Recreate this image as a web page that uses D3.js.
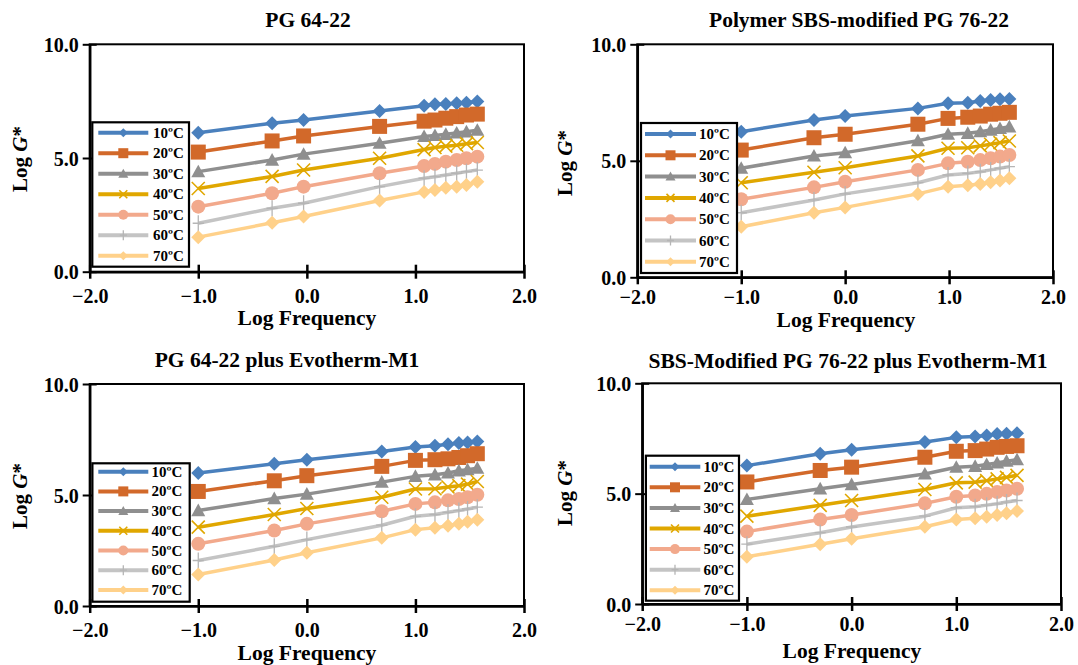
<!DOCTYPE html>
<html>
<head>
<meta charset="utf-8">
<script src="https://cdn.jsdelivr.net/npm/d3@7"></script>
<style>
  body { margin: 0; background: #fff; }
  text { font-family: "Liberation Serif", "Times New Roman", serif; font-weight: bold; fill: #000; }
</style>
</head>
<body>
<svg id="chart" width="1078" height="665"></svg>
<script>
// legend entries
var temps = ["10ºC", "20ºC", "30ºC", "40ºC", "50ºC", "60ºC", "70ºC"];
var xTicks = [-2, -1, 0, 1, 2];
var yTicks = [0, 5, 10];

// log frequency of each test point
var freqPG64 = [-1.0, -0.32, -0.03, 0.67, 1.08, 1.18, 1.28, 1.38, 1.47, 1.57];
var freqSBS76 = [-1.0, -0.30, 0.0, 0.70, 0.99, 1.18, 1.30, 1.40, 1.49, 1.58];
var freqPG64Evo = [-1.0, -0.30, 0.0, 0.69, 1.0, 1.18, 1.30, 1.40, 1.48, 1.57];
var freqSBS76Evo = [-1.0, -0.30, 0.0, 0.70, 1.0, 1.18, 1.29, 1.39, 1.48, 1.58];

// log G* per temperature (rows 10..70 ºC)
var gPG64 = [
  [6.11, 6.53, 6.67, 7.07, 7.30, 7.36, 7.37, 7.41, 7.43, 7.48],
  [5.26, 5.75, 5.97, 6.39, 6.62, 6.67, 6.75, 6.82, 6.89, 6.93],
  [4.40, 4.91, 5.17, 5.65, 5.95, 5.99, 6.04, 6.10, 6.15, 6.22],
  [3.66, 4.19, 4.47, 4.99, 5.37, 5.46, 5.52, 5.56, 5.63, 5.68],
  [2.86, 3.45, 3.74, 4.33, 4.65, 4.74, 4.84, 4.91, 4.99, 5.06],
  [2.13, 2.79, 3.01, 3.74, 4.11, 4.18, 4.25, 4.33, 4.40, 4.47],
  [1.52, 2.15, 2.43, 3.13, 3.51, 3.59, 3.69, 3.74, 3.81, 3.96]
];
var gSBS76 = [
  [6.25, 6.75, 6.92, 7.25, 7.47, 7.49, 7.57, 7.61, 7.64, 7.65],
  [5.46, 5.99, 6.14, 6.57, 6.82, 6.87, 6.92, 7.00, 7.04, 7.08],
  [4.68, 5.21, 5.35, 5.86, 6.14, 6.18, 6.25, 6.32, 6.39, 6.46],
  [4.06, 4.51, 4.70, 5.21, 5.54, 5.56, 5.64, 5.71, 5.78, 5.85],
  [3.35, 3.86, 4.10, 4.61, 4.89, 4.96, 5.03, 5.11, 5.18, 5.25],
  [2.77, 3.32, 3.58, 4.06, 4.39, 4.46, 4.53, 4.61, 4.68, 4.75],
  [2.17, 2.77, 3.00, 3.58, 3.89, 3.95, 4.00, 4.08, 4.15, 4.25]
];
var gPG64Evo = [
  [5.99, 6.41, 6.59, 6.96, 7.16, 7.22, 7.29, 7.34, 7.37, 7.41],
  [5.16, 5.64, 5.87, 6.29, 6.56, 6.59, 6.63, 6.69, 6.77, 6.86],
  [4.30, 4.84, 5.04, 5.58, 5.84, 5.91, 5.99, 6.09, 6.14, 6.21],
  [3.55, 4.12, 4.39, 4.90, 5.27, 5.28, 5.36, 5.42, 5.49, 5.61],
  [2.80, 3.40, 3.70, 4.27, 4.60, 4.67, 4.76, 4.82, 4.90, 5.01],
  [2.05, 2.69, 2.99, 3.64, 4.04, 4.12, 4.22, 4.30, 4.37, 4.45],
  [1.42, 2.07, 2.40, 3.07, 3.44, 3.52, 3.62, 3.70, 3.79, 3.89]
];
var gSBS76Evo = [
  [6.27, 6.81, 6.99, 7.34, 7.55, 7.59, 7.64, 7.70, 7.71, 7.74],
  [5.53, 6.05, 6.20, 6.65, 6.92, 6.95, 7.02, 7.10, 7.14, 7.17],
  [4.74, 5.22, 5.41, 5.89, 6.20, 6.24, 6.32, 6.39, 6.47, 6.54],
  [3.98, 4.47, 4.69, 5.19, 5.49, 5.52, 5.59, 5.67, 5.74, 5.83],
  [3.28, 3.83, 4.03, 4.56, 4.86, 4.92, 4.99, 5.07, 5.14, 5.22],
  [2.71, 3.23, 3.49, 3.98, 4.36, 4.41, 4.48, 4.54, 4.62, 4.69],
  [2.14, 2.71, 2.96, 3.50, 3.83, 3.88, 3.95, 4.03, 4.11, 4.21]
];

var titles = ["PG 64-22", "Polymer SBS-modified PG 76-22",
              "PG 64-22 plus Evotherm-M1", "SBS-Modified PG 76-22 plus Evotherm-M1"];

var colors = ["#4a80bd", "#d2692a", "#8f8f8f", "#e0a700", "#f2a98c", "#c4c4c4", "#ffd18a"];
var markers = ["diamond", "square", "triangle", "x", "circle", "plus", "diamond"];

// where each panel sits on the page
var panels = [
  { title: titles[0], freq: freqPG64, g: gPG64,
    x0: 89.7, x1: 524, top: 44.3, bot: 271.7, tickOff: 31,
    tt: [308, 27], xl: [307, 325], yl: [27, 159],
    leg: { x: 92.3, y: 122.3, w: 96.7, h: 144.4, r0: 132.7, step: 20.5, l0: 98.3, l1: 148.3, tx: 153 } },
  { title: titles[1], freq: freqSBS76, g: gSBS76,
    x0: 637.3, x1: 1053, top: 44.3, bot: 277.3, tickOff: 27,
    tt: [859, 26.7], xl: [846, 326.7], yl: [572, 163],
    leg: { x: 641, y: 123, w: 96, h: 150, r0: 134, step: 21.3, l0: 645, l1: 696, tx: 699 } },
  { title: titles[2], freq: freqPG64Evo, g: gPG64Evo,
    x0: 89.7, x1: 524, top: 384, bot: 606, tickOff: 31,
    tt: [287, 366.7], xl: [307, 660], yl: [27, 496],
    leg: { x: 92.4, y: 463.3, w: 97.3, h: 138.4, r0: 471.7, step: 19.7, l0: 98.3, l1: 148.3, tx: 151.5 } },
  { title: titles[3], freq: freqSBS76Evo, g: gSBS76Evo,
    x0: 642.2, x1: 1061, top: 383.3, bot: 604, tickOff: 27,
    tt: [848, 368.3], xl: [852, 658.3], yl: [572, 493],
    leg: { x: 645.9, y: 455.7, w: 93.1, h: 145, r0: 466.7, step: 20.6, l0: 649.7, l1: 700.3, tx: 703.5 } }
];

var svg = d3.select("#chart");
var fmt = d3.format(".1f");

// draw a marker of given kind and size at (0,0) inside group g
function drawMarker(g, kind, color, s) {
  if (kind == "diamond") {
    g.append("path").attr("d", "M0," + (-s) + "L" + s + ",0L0," + s + "L" + (-s) + ",0Z").attr("fill", color);
  } else if (kind == "square") {
    g.append("rect").attr("x", -s).attr("y", -s).attr("width", 2 * s).attr("height", 2 * s).attr("fill", color);
  } else if (kind == "triangle") {
    g.append("path").attr("d", "M0," + (-s) + "L" + s + "," + (s * 0.8) + "L" + (-s) + "," + (s * 0.8) + "Z").attr("fill", color);
  } else if (kind == "x") {
    g.append("path").attr("d", "M" + (-s) + "," + (-s) + "L" + s + "," + s + "M" + s + "," + (-s) + "L" + (-s) + "," + s)
      .attr("stroke", color).attr("stroke-width", 1.6).attr("fill", "none");
  } else if (kind == "circle") {
    g.append("circle").attr("r", s).attr("fill", color);
  } else if (kind == "plus") {
    g.append("path").attr("d", "M0," + (-s) + "V" + s + "M" + (-s * 0.7) + ",0H" + (s * 0.7))
      .attr("stroke", "#b5b5b5").attr("stroke-width", 1.3).attr("fill", "none");
  }
}

var plotSize = [7, 7.5, 7, 6.5, 7, 8, 7];
var legSize = [4.5, 5, 5, 4, 5, 5, 4.5];

panels.forEach(function(p) {
  var x = d3.scaleLinear().domain([-2, 2]).range([p.x0, p.x1]);
  var y = d3.scaleLinear().domain([0, 10]).range([p.bot, p.top]);

  // frame
  svg.append("rect")
    .attr("x", p.x0).attr("y", p.top).attr("width", p.x1 - p.x0).attr("height", p.bot - p.top)
    .attr("fill", "none").attr("stroke", "#000").attr("stroke-width", 2);

  // axes with ticks crossing the line
  var xa = svg.append("g").attr("transform", "translate(0," + p.bot + ")")
    .call(d3.axisBottom(x).tickValues(xTicks).tickFormat(fmt).tickSize(7).tickSizeOuter(0));
  xa.select(".domain").attr("stroke-width", 2.5);
  xa.selectAll(".tick line").attr("y1", -7).attr("stroke-width", 2.5);
  xa.selectAll(".tick text").attr("y", p.tickOff).attr("dy", null)
    .style("font-size", "20px").style("font-family", "'Liberation Serif', serif").style("font-weight", "bold");

  var ya = svg.append("g").attr("transform", "translate(" + p.x0 + ",0)")
    .call(d3.axisLeft(y).tickValues(yTicks).tickFormat(fmt).tickSize(7).tickSizeOuter(0));
  ya.select(".domain").attr("stroke-width", 2.5);
  ya.selectAll(".tick line").attr("x1", 7).attr("stroke-width", 2);
  ya.selectAll(".tick text").attr("x", -11).attr("dy", "0.35em")
    .style("font-size", "20px").style("font-family", "'Liberation Serif', serif").style("font-weight", "bold");

  // series
  var line = d3.line().x(function(d) { return x(d[0]); }).y(function(d) { return y(d[1]); });
  p.g.forEach(function(vals, i) {
    var pts = vals.map(function(v, j) { return [p.freq[j], v]; });
    svg.append("path").datum(pts).attr("d", line)
      .attr("fill", "none").attr("stroke", colors[i]).attr("stroke-width", 3.5).attr("stroke-linejoin", "round");
    pts.forEach(function(d) {
      var m = svg.append("g").attr("transform", "translate(" + x(d[0]) + "," + y(d[1]) + ")");
      drawMarker(m, markers[i], colors[i], plotSize[i]);
    });
  });

  // legend
  var L = p.leg;
  svg.append("rect").attr("x", L.x).attr("y", L.y).attr("width", L.w).attr("height", L.h)
    .attr("fill", "#fff").attr("stroke", "#000").attr("stroke-width", 2.2);
  temps.forEach(function(t, i) {
    var ry = L.r0 + i * L.step;
    svg.append("line").attr("x1", L.l0).attr("x2", L.l1).attr("y1", ry).attr("y2", ry)
      .attr("stroke", colors[i]).attr("stroke-width", 4);
    var m = svg.append("g").attr("transform", "translate(" + ((L.l0 + L.l1) / 2) + "," + ry + ")");
    drawMarker(m, markers[i], colors[i], legSize[i]);
    svg.append("text").attr("x", L.tx).attr("y", ry + 5).style("font-size", "15px").text(t);
  });

  // titles
  svg.append("text").attr("x", p.tt[0]).attr("y", p.tt[1]).attr("text-anchor", "middle")
    .style("font-size", "21.5px").text(p.title);
  svg.append("text").attr("x", p.xl[0]).attr("y", p.xl[1]).attr("text-anchor", "middle")
    .style("font-size", "21.5px").text("Log Frequency");
  var yt = svg.append("text").attr("transform", "translate(" + p.yl[0] + "," + p.yl[1] + ") rotate(-90)")
    .attr("text-anchor", "middle").style("font-size", "21px");
  yt.append("tspan").text("Log ");
  yt.append("tspan").style("font-style", "italic").text("G");
  yt.append("tspan").text("*");
});
</script>
</body>
</html>
